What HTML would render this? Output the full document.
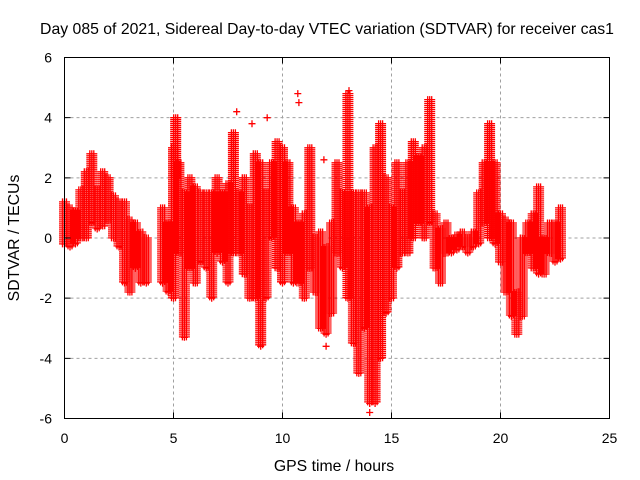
<!DOCTYPE html>
<html><head><meta charset="utf-8"><style>
body{margin:0;background:#fff;}
svg{display:block;font-family:"Liberation Sans",sans-serif;}
</style></head><body>
<svg id="chart" width="640" height="480">
<rect width="640" height="480" fill="#fff"/>
<text x="327" y="34" font-size="15.8" text-anchor="middle">Day 085 of 2021, Sidereal Day-to-day VTEC variation (SDTVAR) for receiver cas1</text>
<g id="grid"></g>
<g id="marks"></g>
<rect x="64.5" y="57.5" width="545" height="361" fill="none" stroke="#000" stroke-width="1"/>
<g id="ticks"></g>
<text x="334" y="471" font-size="15.8" text-anchor="middle">GPS time / hours</text>
<text transform="translate(19,238) rotate(-90)" font-size="15.8" text-anchor="middle">SDTVAR / TECUs</text>
</svg>
<script>
const times=[0,0.25,0.5,0.75,1,1.25,1.5,1.75,2,2.25,2.5,2.75,3,3.25,3.5,3.75,4.5,4.75,5,5.1,5.25,5.5,5.75,6,6.25,6.5,6.75,7,7.25,7.5,7.75,8,8.25,8.5,8.75,9,9.25,9.5,9.75,10,10.25,10.5,10.75,11,11.25,11.5,11.75,12,12.25,12.5,12.75,13,13.25,13.5,13.75,14,14.25,14.5,14.75,15,15.25,15.5,15.75,16,16.25,16.5,16.75,17,17.25,17.5,17.75,18,18.25,18.5,18.75,19,19.25,19.5,19.75,20,20.25,20.5,20.75,21,21.25,21.5,21.75,22,22.25,22.5,22.75];
const lows=[-0.2,-0.3,-0.2,0,0,0.5,0.3,0.4,0.6,0,-0.3,-1.5,-1.8,-1,-1.5,-1.5,-1.5,-1.8,-2,2,-0.5,-3.3,-1,-1.5,-0.8,-1,-2,-0.5,-0.8,-1.5,-0.5,-0.5,-1.2,-2,-2,-3.6,-2,0,-1,-1.5,-0.5,-1.5,-1.5,-2,-1,-1.8,-3,-3.2,-2.5,-0.5,-1,-2,-3.5,-4.5,-3,-5.5,-5.5,-4,-2.5,-2,-1,-0.5,-0.5,0,0.5,0,0.5,-1,-1.5,-0.5,-0.5,-0.4,-0.3,-0.5,-0.3,-0.2,0.5,0,-0.2,-0.8,-1.8,-2.6,-3.2,-2.6,-0.5,-1,-1.2,-1.2,-0.5,-0.8,-0.7];
const highs=[1.2,1,0.9,1.6,2.2,2.8,1.6,2.2,2,1.4,1.2,1.2,0.6,0.5,0.2,0,1,0.5,3,4,2.5,1.5,2,1.7,1.5,1.5,1.5,2,1.5,1.8,3.5,1.5,2,1,2.8,2.5,1.5,2.5,3.2,3,2.5,1,0.5,0.8,3,0,0.2,-0.3,0.5,2.5,1.5,4.8,1.5,1.5,1.5,1,3,3.8,2,1,2.5,1.5,2.5,3.2,2.7,3,4.6,0.8,0.3,0.5,0,0.1,0.2,0,0.2,1.5,2.5,3.8,2.5,0.8,0.6,0.5,-1.8,0,0.5,0.8,1.7,0,0.5,0.5,1];
const outlierT=[7.9,8.6,9.3,10.7,10.75,11.9,12.0,13.05,14.0];
const outlierV=[4.2,3.8,4.0,4.8,4.5,2.6,-3.6,4.9,-5.8];
const xTicks=[0,5,10,15,20,25];
const yTicks=[-6,-4,-2,0,2,4,6];
const X0=64.5,X1=609.5,Y0=418.5,Y1=57.5;
const xs=t=>X0+(t-0)/25*(X1-X0);
const ys=v=>Y0-(v+6)/12*(Y0-Y1);
const NS="http://www.w3.org/2000/svg";
const grid=document.getElementById('grid'),ticks=document.getElementById('ticks'),marks=document.getElementById('marks');
function mk(tag,attrs,parent){const e=document.createElementNS(NS,tag);for(const k in attrs)e.setAttribute(k,attrs[k]);parent.appendChild(e);return e;}
xTicks.forEach(t=>{const x=xs(t);
 if(t>0&&t<25){const g=mk('line',{x1:x,x2:x,y1:Y0,y2:Y1,stroke:'#a0a0a0','stroke-dasharray':'3,3'},grid);
 
 }
 const tk=mk('path',{d:`M${x} ${Y0}v-6M${x} ${Y1}v6`,stroke:'#000'},ticks);
 
 
 const l=mk('text',{x:x,y:443,'font-size':14,'text-anchor':'middle'},ticks);l.textContent=t;
 
 });
yTicks.forEach(v=>{const y=ys(v);
 if(v>-6&&v<6){const g=mk('line',{x1:X0,x2:X1,y1:y,y2:y,stroke:'#a0a0a0','stroke-dasharray':'3,3'},grid);
 
 }
 const tk=mk('path',{d:`M${X0} ${y}h6M${X1} ${y}h-6`,stroke:'#000'},ticks);
 
 
 const l=mk('text',{x:52,y:y+5,'font-size':14,'text-anchor':'end'},ticks);l.textContent=v;
 
 });
function plus(x,y){return `M${(x-3.5).toFixed(1)} ${y.toFixed(1)}h7M${x.toFixed(1)} ${(y-3.5).toFixed(1)}v7`;}
times.forEach((t,i)=>{const x=xs(t);let d='';
 const ya=ys(highs[i]),yb=ys(lows[i]);
 for(let y=ya;y<=yb+0.1;y+=2){d+=plus(x-2,y)+plus(x,y)+plus(x+2,y);}
 d+=plus(x,yb);
 const p=mk('path',{d:d,stroke:'#f00','stroke-width':1.3,fill:'none'},marks);
 
 });
outlierT.forEach((t,i)=>{const p=mk('path',{d:plus(xs(t),ys(outlierV[i])),stroke:'#f00','stroke-width':1.3,fill:'none'},marks);
 
 });
</script>
</body></html>
